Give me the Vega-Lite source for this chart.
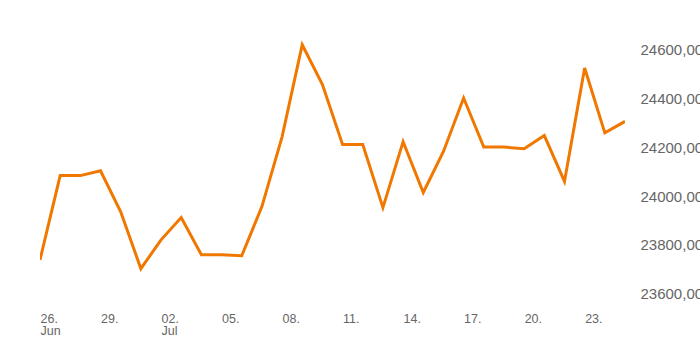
{
  "$schema": "https://vega.github.io/schema/vega-lite/v6.json",
  "autosize": {"type": "none"},
  "padding": {"left": 40, "top": 13, "right": 75, "bottom": 44},
  "width": 585,
  "height": 293,
  "config": {
    "view": {"stroke": null},
    "locale": {"number": {"decimal": ",", "thousands": ".", "grouping": [3], "currency": ["", " €"]}},
    "font": "Liberation Sans"
  },
  "data": {
    "format": {"parse": {"date": "utc:'%Y-%m-%d'"}},
    "values": [
      {"date": "2023-06-26", "value": 23739},
      {"date": "2023-06-27", "value": 24084},
      {"date": "2023-06-28", "value": 24084},
      {"date": "2023-06-29", "value": 24104},
      {"date": "2023-06-30", "value": 23936},
      {"date": "2023-07-01", "value": 23703},
      {"date": "2023-07-02", "value": 23821},
      {"date": "2023-07-03", "value": 23912},
      {"date": "2023-07-04", "value": 23760},
      {"date": "2023-07-05", "value": 23760},
      {"date": "2023-07-06", "value": 23756},
      {"date": "2023-07-07", "value": 23957},
      {"date": "2023-07-08", "value": 24243},
      {"date": "2023-07-09", "value": 24620},
      {"date": "2023-07-10", "value": 24457},
      {"date": "2023-07-11", "value": 24211},
      {"date": "2023-07-12", "value": 24211},
      {"date": "2023-07-13", "value": 23953},
      {"date": "2023-07-14", "value": 24223},
      {"date": "2023-07-15", "value": 24015},
      {"date": "2023-07-16", "value": 24183},
      {"date": "2023-07-17", "value": 24402},
      {"date": "2023-07-18", "value": 24201},
      {"date": "2023-07-19", "value": 24201},
      {"date": "2023-07-20", "value": 24194},
      {"date": "2023-07-21", "value": 24248},
      {"date": "2023-07-22", "value": 24060},
      {"date": "2023-07-23", "value": 24525},
      {"date": "2023-07-24", "value": 24259},
      {"date": "2023-07-25", "value": 24306}
    ]
  },
  "mark": {"type": "line", "color": "#f07800", "strokeWidth": 3, "clip": true},
  "encoding": {
    "x": {
      "field": "date",
      "type": "temporal",
      "scale": {
        "type": "utc",
        "domain": [
          {"year": 2023, "month": 6, "date": 26, "utc": true},
          {"year": 2023, "month": 7, "date": 25, "utc": true}
        ]
      },
      "axis": {
        "title": null,
        "grid": false,
        "domain": false,
        "ticks": false,
        "labelAlign": "left",
        "labelBaseline": "top",
        "labelPadding": 6,
        "labelFontSize": 12.5,
        "labelColor": "#666666",
        "labelLineHeight": 12.5,
        "labelOverlap": false,
        "labelBound": false,
        "labelFlush": false,
        "values": [
          {"year": 2023, "month": 6, "date": 26, "utc": true},
          {"year": 2023, "month": 6, "date": 29, "utc": true},
          {"year": 2023, "month": 7, "date": 2, "utc": true},
          {"year": 2023, "month": 7, "date": 5, "utc": true},
          {"year": 2023, "month": 7, "date": 8, "utc": true},
          {"year": 2023, "month": 7, "date": 11, "utc": true},
          {"year": 2023, "month": 7, "date": 14, "utc": true},
          {"year": 2023, "month": 7, "date": 17, "utc": true},
          {"year": 2023, "month": 7, "date": 20, "utc": true},
          {"year": 2023, "month": 7, "date": 23, "utc": true}
        ],
        "labelExpr": "datum.index == 0 || utcdate(datum.value) <= 3 ? [utcFormat(datum.value, '%d.'), utcFormat(datum.value, '%b')] : utcFormat(datum.value, '%d.')"
      }
    },
    "y": {
      "field": "value",
      "type": "quantitative",
      "scale": {"domain": [23550, 24750], "zero": false, "nice": false},
      "axis": {
        "title": null,
        "orient": "right",
        "grid": false,
        "domain": false,
        "ticks": false,
        "labelPadding": 15,
        "labelFontSize": 15,
        "labelColor": "#666666",
        "labelAlign": "left",
        "labelOverlap": false,
        "labelBound": false,
        "values": [23600, 23800, 24000, 24200, 24400, 24600],
        "format": ".2f"
      }
    }
  }
}
